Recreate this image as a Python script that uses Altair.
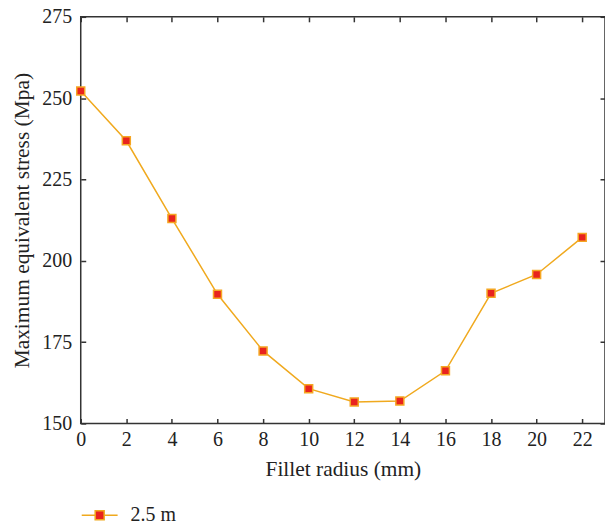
import altair as alt
import pandas as pd

radius = [0, 2, 4, 6, 8, 10, 12, 14, 16, 18, 20, 22]
stress = [252.2, 236.9, 213.0, 189.7, 172.3, 160.7, 156.6, 156.9, 166.2, 190.0, 195.8, 207.2]
series = ["2.5 m"] * len(radius)
x_ticks = [0, 2, 4, 6, 8, 10, 12, 14, 16, 18, 20, 22]
y_ticks = [150, 175, 200, 225, 250, 275]

df = pd.DataFrame({"radius": radius, "stress": stress, "series": series})

FONT = "Liberation Serif"
LINE = "#F0A91E"
MSTROKE = "#F5A623"
MFILL = "#E8231E"
AX = "#333333"

xs = alt.Scale(domain=[0, 23], nice=False, zero=False)
ys = alt.Scale(domain=[150, 275], nice=False, zero=False)

common = dict(domain=False, grid=False, tickSize=5, tickWidth=1.5, tickColor=AX,
              offset=-5, labelFont=FONT, labelFontSize=20, labelColor="#222222",
              titleFont=FONT, titleFontSize=21.5, titleFontWeight="normal", titleColor="#222222")

bottom_axis = alt.Axis(orient="bottom", values=x_ticks, labelPadding=6, title="Fillet radius (mm)",
                       titlePadding=9, labelFlush=False, **common)
left_axis = alt.Axis(orient="left", values=y_ticks, labelPadding=9, title="Maximum equivalent stress (Mpa)",
                     titlePadding=8, **common)
top_axis = alt.Axis(orient="top", values=x_ticks, labels=False, title=None, **common)
right_axis = alt.Axis(orient="right", values=y_ticks, labels=False, title=None, **common)

base = alt.Chart(df)

line = base.mark_line(color=LINE, strokeWidth=1.5).encode(
    x=alt.X("radius:Q", scale=xs, axis=bottom_axis),
    y=alt.Y("stress:Q", scale=ys, axis=left_axis),
)

sym = "M-1,0H-0.25M0.25,0H1M-0.25,-0.25H0.25V0.25H-0.25Z"

pts = base.mark_point(shape="square", filled=True, size=64, stroke=MSTROKE,
                      strokeWidth=1.5, opacity=1).encode(
    x=alt.X("radius:Q", scale=xs, axis=top_axis),
    y=alt.Y("stress:Q", scale=ys, axis=right_axis),
    fill=alt.Fill("series:N", scale=alt.Scale(range=[MFILL]),
                  legend=alt.Legend(title=None, orient="none", legendX=0, legendY=481,
                                    symbolType=sym, symbolSize=1296, symbolStrokeColor=LINE,
                                    symbolFillColor=MFILL, symbolStrokeWidth=1.5,
                                    labelFont=FONT, labelFontSize=20, labelColor="#222222",
                                    labelOffset=12, padding=0)),
)

chart = alt.layer(line, pts).resolve_axis(x="independent", y="independent").properties(
    width=526, height=408,
    autosize=alt.AutoSizeParams(type="none"),
    padding={"left": 81, "top": 16, "right": 0, "bottom": 101},
).configure_view(stroke=AX, strokeWidth=1.5)

chart.save("out.html", embed_options={"renderer": "svg", "actions": False})
